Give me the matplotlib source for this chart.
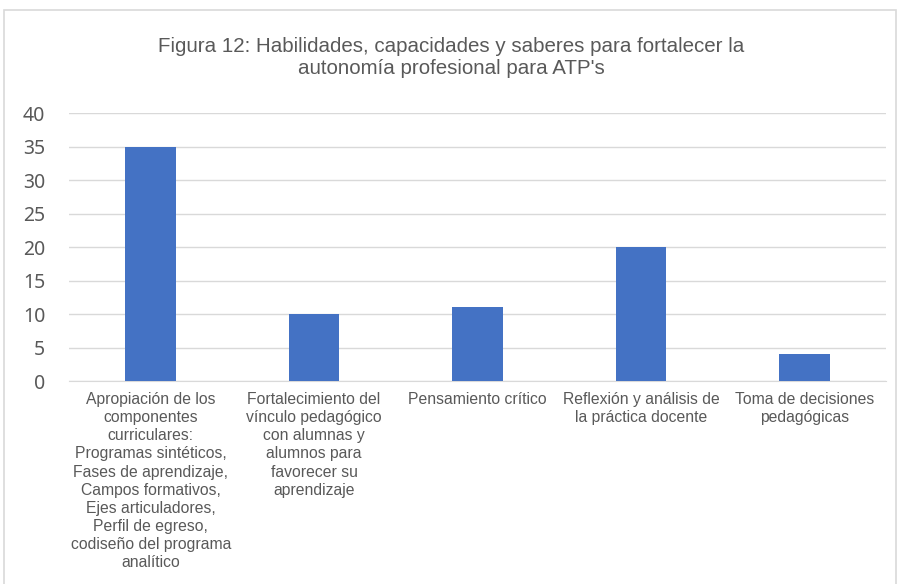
import matplotlib.pyplot as plt
from matplotlib.patches import Rectangle

plt.rcParams['font.family'] = ['Liberation Sans', 'DejaVu Sans']

# Datos del gráfico
categorias = [
    "Apropiación de los\ncomponentes\ncurriculares:\nProgramas sintéticos,\nFases de aprendizaje,\nCampos formativos,\nEjes articuladores,\nPerfil de egreso,\ncodiseño del programa\nanalítico",
    "Fortalecimiento del\nvínculo pedagógico\ncon alumnas y\nalumnos para\nfavorecer su\naprendizaje",
    "Pensamiento crítico",
    "Reflexión y análisis de\nla práctica docente",
    "Toma de decisiones\npedagógicas",
]
valores = [35, 10, 11, 20, 4]
ticks_y = [0, 5, 10, 15, 20, 25, 30, 35, 40]
titulo = "Figura 12: Habilidades, capacidades y saberes para fortalecer la\nautonomía profesional para ATP's"

gris_texto = "#595959"

fig = plt.figure(figsize=(9.02, 5.84), dpi=100)
ax = fig.add_axes([69 / 902, 0.3476, 817 / 902, 0.4589])

# Marco del gráfico
fig.patches.append(Rectangle((4 / 902, -0.05), 892 / 902, 1 - 10 / 584 + 0.05,
                             transform=fig.transFigure, fill=False,
                             edgecolor="#d9d9d9", linewidth=1.2))

x = range(len(categorias))
ax.bar(x, valores, width=0.31, color="#4472C4", zorder=3)

ax.set_xlim(-0.5, len(categorias) - 0.5)
ax.set_ylim(0, 40)
ax.set_yticks(ticks_y)
ax.set_xticks(list(x))
ax.set_xticklabels(categorias, fontsize=11.3, color=gris_texto, va="top",
                   linespacing=1.26)
for t in ax.get_yticklabels():
    t.set_family(["Noto Sans", "DejaVu Sans"])
ax.tick_params(axis="y", labelsize=14, colors=gris_texto, length=0, pad=17)
ax.tick_params(axis="x", length=0, pad=8)

ax.grid(axis="y", color="#d9d9d9", linewidth=1, zorder=0)
for s in ["top", "right", "left"]:
    ax.spines[s].set_visible(False)
ax.spines["bottom"].set_color("#d9d9d9")

fig.text(0.5, 1 - 57 / 584, titulo, ha="center", va="center", fontsize=14.8,
         color=gris_texto, linespacing=1.2)

plt.savefig("out.png", dpi=100)
